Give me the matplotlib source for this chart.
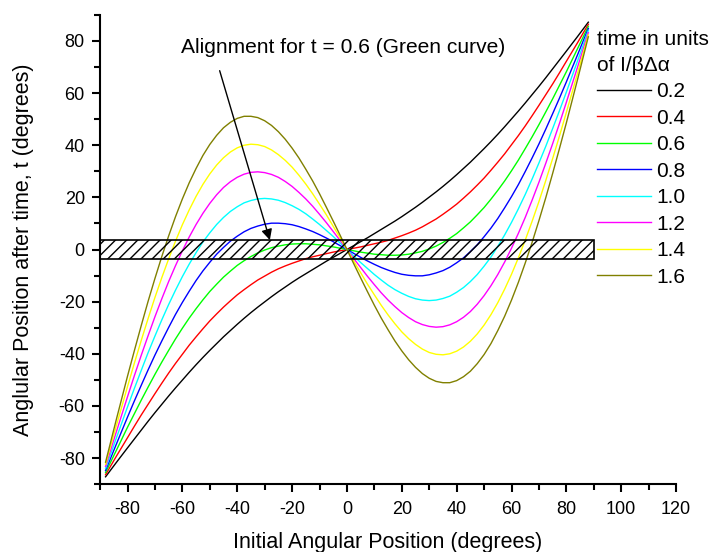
import matplotlib
matplotlib.use("Agg")
import matplotlib.pyplot as plt
from matplotlib.patches import Rectangle
from matplotlib.ticker import MultipleLocator

plt.rcParams['font.family'] = ['Liberation Sans', 'DejaVu Sans']
plt.rcParams['axes.unicode_minus'] = False

x_init = [-88, -84, -80, -77.5, -75, -72.5, -70, -67.5, -65, -62.5, -60, -57.5, -55, -52.5, -50, -47.5,
          -45, -42.5, -40, -37.5, -35, -32.5, -30, -27.5, -25, -22.5, -20, -17.5, -15, -12.5, -10, -7.5,
          -5, -2.5, 0, 2.5, 5, 7.5, 10, 12.5, 15, 17.5, 20, 22.5, 25, 27.5, 30, 32.5, 35, 37.5, 40, 42.5,
          45, 47.5, 50, 52.5, 55, 57.5, 60, 62.5, 65, 67.5, 70, 72.5, 75, 77.5, 80, 84, 88]

t_labels = ["0.2", "0.4", "0.6", "0.8", "1.0", "1.2", "1.4", "1.6"]
colors = ["#000000", "#FF0000", "#00FF00", "#0000FF", "#00FFFF", "#FF00FF", "#FFFF00", "#808000"]

y_t02 = [-87.2, -81.6, -76.1, -72.7, -69.3, -65.9, -62.6, -59.4, -56.2, -53.1, -50.1, -47.1, -44.2, -41.4, -38.7, -36.1,
         -33.5, -31.1, -28.7, -26.4, -24.2, -22.1, -20.1, -18.1, -16.2, -14.4, -12.6, -10.9, -9.3, -7.7, -6.1, -4.5,
         -3.0, -1.5, 0.0, 1.5, 3.0, 4.5, 6.1, 7.7, 9.3, 10.9, 12.6, 14.4, 16.2, 18.1, 20.1, 22.1, 24.2, 26.4, 28.7, 31.1,
         33.5, 36.1, 38.7, 41.4, 44.2, 47.1, 50.1, 53.1, 56.2, 59.4, 62.6, 65.9, 69.3, 72.7, 76.1, 81.6, 87.2]
y_t04 = [-86.4, -79.2, -72.2, -67.8, -63.5, -59.4, -55.3, -51.3, -47.4, -43.7, -40.2, -36.7, -33.5, -30.4, -27.4, -24.7,
         -22.1, -19.7, -17.4, -15.4, -13.5, -11.7, -10.2, -8.7, -7.4, -6.3, -5.3, -4.4, -3.5, -2.8, -2.2, -1.6,
         -1.0, -0.5, 0.0, 0.5, 1.0, 1.6, 2.2, 2.8, 3.5, 4.4, 5.3, 6.3, 7.4, 8.7, 10.2, 11.7, 13.5, 15.4, 17.4, 19.7,
         22.1, 24.7, 27.4, 30.4, 33.5, 36.7, 40.2, 43.7, 47.4, 51.3, 55.3, 59.4, 63.5, 67.8, 72.2, 79.2, 86.4]
y_t06 = [-85.6, -76.9, -68.2, -63.0, -57.8, -52.8, -47.9, -43.2, -38.7, -34.3, -30.2, -26.3, -22.7, -19.3, -16.1, -13.3,
         -10.6, -8.3, -6.1, -4.3, -2.7, -1.3, -0.2, 0.7, 1.3, 1.8, 2.1, 2.2, 2.2, 2.0, 1.8, 1.4,
         1.0, 0.5, 0.0, -0.5, -1.0, -1.4, -1.8, -2.0, -2.2, -2.2, -2.1, -1.8, -1.3, -0.7, 0.2, 1.3, 2.7, 4.3, 6.1, 8.3,
         10.6, 13.3, 16.1, 19.3, 22.7, 26.3, 30.2, 34.3, 38.7, 43.2, 47.9, 52.8, 57.8, 63.0, 68.2, 76.9, 85.6]
y_t08 = [-84.8, -74.5, -64.3, -58.1, -52.1, -46.2, -40.5, -35.1, -29.9, -24.9, -20.3, -16.0, -11.9, -8.2, -4.9, -1.8,
         0.8, 3.2, 5.1, 6.8, 8.1, 9.0, 9.7, 10.1, 10.1, 9.9, 9.5, 8.8, 7.9, 6.9, 5.7, 4.4,
         3.0, 1.5, 0.0, -1.5, -3.0, -4.4, -5.7, -6.9, -7.9, -8.8, -9.5, -9.9, -10.1, -10.1, -9.7, -9.0, -8.1, -6.8, -5.1, -3.2,
         -0.8, 1.8, 4.9, 8.2, 11.9, 16.0, 20.3, 24.9, 29.9, 35.1, 40.5, 46.2, 52.1, 58.1, 64.3, 74.5, 84.8]
y_t10 = [-84.0, -72.1, -60.4, -53.3, -46.4, -39.6, -33.2, -27.0, -21.1, -15.6, -10.4, -5.6, -1.2, 2.9, 6.4, 9.6,
         12.3, 14.6, 16.4, 17.9, 18.8, 19.4, 19.6, 19.4, 18.9, 18.0, 16.8, 15.4, 13.7, 11.7, 9.6, 7.3,
         5.0, 2.5, 0.0, -2.5, -5.0, -7.3, -9.6, -11.7, -13.7, -15.4, -16.8, -18.0, -18.9, -19.4, -19.6, -19.4, -18.8, -17.9, -16.4, -14.6,
         -12.3, -9.6, -6.4, -2.9, 1.2, 5.6, 10.4, 15.6, 21.1, 27.0, 33.2, 39.6, 46.4, 53.3, 60.4, 72.1, 84.0]
y_t12 = [-83.2, -69.7, -56.5, -48.4, -40.6, -33.1, -25.8, -18.9, -12.3, -6.2, -0.5, 4.8, 9.6, 13.9, 17.7, 21.0,
         23.8, 26.0, 27.7, 28.9, 29.6, 29.8, 29.5, 28.8, 27.7, 26.1, 24.2, 21.9, 19.4, 16.6, 13.5, 10.3,
         6.9, 3.5, 0.0, -3.5, -6.9, -10.3, -13.5, -16.6, -19.4, -21.9, -24.2, -26.1, -27.7, -28.8, -29.5, -29.8, -29.6, -28.9, -27.7, -26.0,
         -23.8, -21.0, -17.7, -13.9, -9.6, -4.8, 0.5, 6.2, 12.3, 18.9, 25.8, 33.1, 40.6, 48.4, 56.5, 69.7, 83.2]
y_t14 = [-82.4, -67.3, -52.6, -43.6, -34.9, -26.5, -18.4, -10.8, -3.6, 3.2, 9.5, 15.2, 20.4, 25.0, 29.0, 32.4,
         35.2, 37.4, 39.0, 40.0, 40.4, 40.2, 39.5, 38.2, 36.4, 34.2, 31.6, 28.5, 25.1, 21.4, 17.4, 13.3,
         8.9, 4.5, 0.0, -4.5, -8.9, -13.3, -17.4, -21.4, -25.1, -28.5, -31.6, -34.2, -36.4, -38.2, -39.5, -40.2, -40.4, -40.0, -39.0, -37.4,
         -35.2, -32.4, -29.0, -25.0, -20.4, -15.2, -9.5, -3.2, 3.6, 10.8, 18.4, 26.5, 34.9, 43.6, 52.6, 67.3, 82.4]
y_t16 = [-81.6, -64.9, -48.6, -38.8, -29.2, -19.9, -11.1, -2.7, 5.2, 12.6, 19.4, 25.6, 31.1, 36.1, 40.3, 43.8,
         46.7, 48.8, 50.3, 51.1, 51.1, 50.6, 49.4, 47.6, 45.2, 42.3, 38.9, 35.1, 30.8, 26.3, 21.4, 16.2,
         10.9, 5.5, 0.0, -5.5, -10.9, -16.2, -21.4, -26.3, -30.8, -35.1, -38.9, -42.3, -45.2, -47.6, -49.4, -50.6, -51.1, -51.1, -50.3, -48.8,
         -46.7, -43.8, -40.3, -36.1, -31.1, -25.6, -19.4, -12.6, -5.2, 2.7, 11.1, 19.9, 29.2, 38.8, 48.6, 64.9, 81.6]

series = [y_t02, y_t04, y_t06, y_t08, y_t10, y_t12, y_t14, y_t16]

band_x = [-90, 90]
band_y = [-3.5, 3.5]

annot_text = "Alignment for t = 0.6 (Green curve)"
annot_text_pos = (-60.5, 77.4)
arrow_tail = (-46.4, 68.6)
arrow_tip = (-28.1, 3.6)

fig = plt.figure(figsize=(7.2, 5.52), dpi=100)
ax = fig.add_axes([0.139, 0.123, 0.800, 0.850])

for ys, c, lab in zip(series, colors, t_labels):
    ax.plot(x_init[:len(ys)], ys, color=c, lw=1.0, label=lab)

rect = Rectangle((band_x[0], band_y[0]), band_x[1] - band_x[0], band_y[1] - band_y[0],
                 fill=False, hatch='///', edgecolor='black', lw=1.2, zorder=5)
ax.add_patch(rect)

ax.text(annot_text_pos[0], annot_text_pos[1], annot_text, fontsize=15.1, ha='left', va='center')
ax.annotate("", xy=arrow_tip, xytext=arrow_tail,
            arrowprops=dict(arrowstyle='-|>', color='black', lw=1.0, mutation_scale=16, shrinkA=0, shrinkB=0))

ax.set_xlim(-90, 120)
ax.set_ylim(-90, 90)
ax.set_xticks([-80, -60, -40, -20, 0, 20, 40, 60, 80, 100, 120])
ax.set_yticks([-80, -60, -40, -20, 0, 20, 40, 60, 80])
ax.xaxis.set_minor_locator(MultipleLocator(10))
ax.yaxis.set_minor_locator(MultipleLocator(10))

for s in ['top', 'right']:
    ax.spines[s].set_visible(False)
for s in ['left', 'bottom']:
    ax.spines[s].set_linewidth(1.5)
ax.tick_params(which='major', direction='out', length=6, width=1.5, labelsize=13)
ax.tick_params(axis='x', which='major', pad=6)
ax.tick_params(axis='y', which='major', pad=5)
ax.tick_params(which='minor', direction='out', length=4, width=1.5)

ax.set_xlabel("Initial Angular Position (degrees)", fontsize=15.5, labelpad=10)
ax.set_ylabel("Anglular Position after time, t (degrees)", fontsize=15.5, labelpad=18)

leg = ax.legend(title="time in units\nof I/\u03b2\u0394\u03b1", loc='upper left',
                bbox_to_anchor=(597 / 720, 1 - 30 / 552), bbox_transform=fig.transFigure,
                frameon=False, fontsize=15, title_fontsize=15, handlelength=2.6, labelspacing=0.36,
                handletextpad=0.25, borderaxespad=0.0, borderpad=0.0)
leg.get_title().set_linespacing(1.45)
leg._legend_box.align = "left"

fig.savefig("out.png", dpi=100)
